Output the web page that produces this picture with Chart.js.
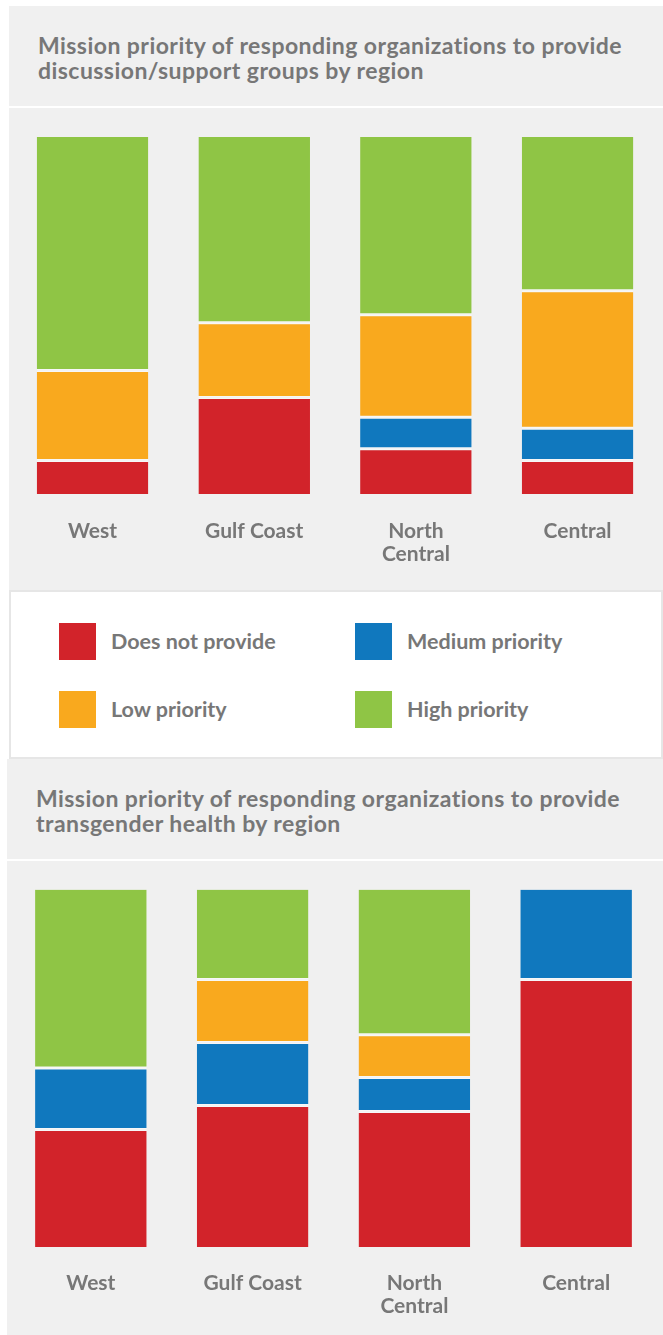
<!DOCTYPE html>
<html>
<head>
<meta charset="utf-8">
<script src="https://cdn.jsdelivr.net/npm/chart.js@4"></script>
<style>
  body { margin: 0; background: #fff; font-family: Lato, "Open Sans", sans-serif; }
  #page { position: relative; width: 663px; height: 1335px; overflow: hidden; }
  .panel { position: absolute; background: #f0f0f0; }
  .title { color: #777; font-weight: 700; font-size: 23px; letter-spacing: 0.45px; line-height: 25px; padding-left: 29px; padding-top: 27px; }
  #legendBox { position: absolute; left: 9px; top: 590px; width: 650px; height: 165px; background: #fff; border: 2px solid #e6e6e6; }
  .sw { position: absolute; width: 37px; height: 37px; }
  .lt { position: absolute; color: #777; font-weight: 700; font-size: 21.5px; line-height: 37px; }
  canvas { position: absolute; left: 0; }
</style>
</head>
<body>
<div id="page">
  <div class="panel title" style="left:9px;top:6px;width:625px;height:73px;">Mission priority of responding organizations to provide<br>discussion/support groups by region</div>
  <div class="panel" style="left:9px;top:108px;width:654px;height:482px;"></div>
  <div id="legendBox"></div>
  <div class="panel title" style="left:7px;top:759px;width:627px;height:73px;">Mission priority of responding organizations to provide<br>transgender health by region</div>
  <div class="panel" style="left:7px;top:861px;width:656px;height:474px;"></div>
  <canvas id="chart1" width="663" height="482" style="top:108px"></canvas>
  <canvas id="chart2" width="663" height="474" style="top:861px"></canvas>
</div>
<script>
// Categories and series (percent of responding organizations)
const regions = ['West', 'Gulf Coast', ['North', 'Central'], 'Central'];
const seriesNames = ['Does not provide', 'Medium priority', 'Low priority', 'High priority'];
const seriesColors = ['#d2232a', '#1078be', '#f9a91e', '#8fc545'];

// Chart 1: discussion/support groups
const groupsNotProvide = [9.4, 27.0, 12.7, 9.4];
const groupsMedium = [0, 0, 8.8, 9.0];
const groupsLow = [25.2, 21.0, 28.7, 38.5];
const groupsHigh = [65.4, 52.0, 49.8, 43.1];

// Chart 2: transgender health
const transNotProvide = [32.9, 39.6, 37.9, 74.8];
const transMedium = [17.2, 17.6, 9.5, 25.2];
const transLow = [0, 17.6, 12.0, 0];
const transHigh = [49.9, 25.2, 40.6, 0];

const legendOrder = [0, 1, 2, 3];

// Build the legend box
const legendBox = document.getElementById('legendBox');
const legendSpots = [[48, 31], [344, 31], [48, 99], [344, 99]];
legendOrder.forEach((s, i) => {
    const sw = document.createElement('div');
    sw.className = 'sw';
    sw.style.background = seriesColors[s];
    sw.style.left = legendSpots[i][0] + 'px';
    sw.style.top = legendSpots[i][1] + 'px';
    legendBox.appendChild(sw);
    const lt = document.createElement('div');
    lt.className = 'lt';
    lt.textContent = seriesNames[s];
    lt.style.left = (legendSpots[i][0] + 52) + 'px';
    lt.style.top = legendSpots[i][1] + 'px';
    legendBox.appendChild(lt);
});

// White gaps between stacked segments, none on the outer ends of a stack
function gapBorder(series) {
    return (ctx) => {
        const i = ctx.dataIndex;
        const d = ctx.datasetIndex;
        let lowest = -1, highest = -1;
        series.forEach((arr, k) => {
            if (arr[i] > 0) {
                if (lowest < 0) lowest = k;
                highest = k;
            }
        });
        return {
            top: d === highest ? 0 : 1.5,
            bottom: d === lowest ? 0 : 1.5,
            left: 0,
            right: 0
        };
    };
}

function makeChart(id, series, pad, axisHeight, tickPad) {
    const ctx = document.getElementById(id).getContext('2d');
    return new Chart(ctx, {
        type: 'bar',
        data: {
            labels: regions,
            datasets: series.map((arr, k) => ({
                label: seriesNames[k],
                data: arr,
                backgroundColor: seriesColors[k],
                borderColor: '#f7f7f7',
                borderWidth: gapBorder(series),
                borderSkipped: false,
                barPercentage: 0.69,
                categoryPercentage: 1.0
            }))
        },
        options: {
            responsive: false,
            animation: false,
            layout: { padding: pad },
            plugins: {
                legend: { display: false },
                tooltip: { enabled: false }
            },
            scales: {
                x: {
                    stacked: true,
                    grid: { display: false, drawTicks: false },
                    border: { display: false },
                    ticks: {
                        color: '#777',
                        padding: tickPad,
                        maxRotation: 0,
                        font: { family: 'Lato', weight: 'bold', size: 21, lineHeight: 1.08 }
                    },
                    afterFit: (scale) => { scale.height = axisHeight; }
                },
                y: {
                    stacked: true,
                    display: false,
                    min: 0,
                    max: 100
                }
            }
        }
    });
}

makeChart('chart1', [groupsNotProvide, groupsMedium, groupsLow, groupsHigh],
    { left: 11.7, right: 4.6, top: 29, bottom: 0 }, 96, 26);
makeChart('chart2', [transNotProvide, transMedium, transLow, transHigh],
    { left: 10, right: 6, top: 28.5, bottom: 0 }, 88, 25);
</script>
</body>
</html>
